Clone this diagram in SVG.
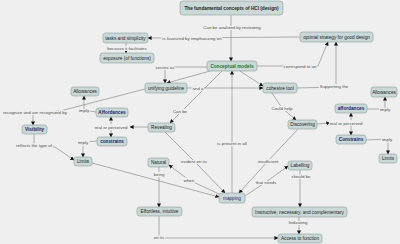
<svg xmlns="http://www.w3.org/2000/svg" width="400" height="244" viewBox="0 0 400 244">
<defs>
<marker id="ah" markerUnits="userSpaceOnUse" markerWidth="4" markerHeight="4" refX="3.6" refY="2" orient="auto">
<path d="M0,0 L4,2 L0,4 Z" fill="#111"/>
</marker>
<style>
.bg{fill:#efefef}
.n rect{fill:#cad8d8;stroke:#8a9c9c;stroke-width:0.6}
.n text{font-family:"Liberation Sans",Arial,sans-serif;font-size:4.7px;fill:#222;text-anchor:middle;dominant-baseline:central}
.n.b text{font-weight:bold;fill:#1a1a6e}
.n.g text{font-weight:bold;fill:#1f7a1f}
.n.t text{font-weight:bold;fill:#222}
.n.m text{fill:#1a1a6e}
#links line,#links polyline{stroke:#7c7c7c;stroke-width:0.6;fill:none}
.a{marker-end:url(#ah)}
.l{font-family:"Liberation Sans",Arial,sans-serif;font-size:4.4px;fill:#505050;text-anchor:middle;dominant-baseline:central;paint-order:stroke;stroke:#efefef;stroke-width:2.2px}
</style>
</defs>
<rect class="bg" x="0" y="0" width="400" height="244"/>
<g id="links">
<line class="a" x1="231" y1="15" x2="231" y2="61"/>
<line class="a" x1="300" y1="37" x2="148" y2="38"/>
<line class="a" x1="126" y1="43" x2="126" y2="53"/>
<polyline class="a" points="207,67 165,67 165,83"/>
<line class="a" x1="210" y1="71" x2="167" y2="83"/>
<polyline class="a" points="257,66 318,66 328,42"/>
<polyline class="a" points="297,88 336,87 336,42"/>
<line class="a" x1="187" y1="88" x2="263" y2="88"/>
<line class="a" x1="240" y1="71" x2="263" y2="86"/>
<line class="a" x1="222" y1="71" x2="170" y2="123"/>
<polyline class="a" points="145,89 60,111 33,113 33,125"/>
<line class="a" x1="148" y1="127" x2="130" y2="127"/>
<line class="a" x1="111" y1="124" x2="111" y2="117"/>
<line class="a" x1="111" y1="130" x2="111" y2="137"/>
<polyline class="a" points="96,112 84,110 84,96"/>
<polyline class="a" points="97,141 83,142 83,157"/>
<polyline class="a" points="34,134 34,145 55,147 74,160"/>
<line class="a" x1="92" y1="163" x2="219" y2="197"/>
<polyline class="a" points="272,93 282,108 296,120"/>
<line class="a" x1="317" y1="124" x2="330" y2="123"/>
<line class="a" x1="351" y1="120" x2="351" y2="113"/>
<line class="a" x1="351" y1="126" x2="351" y2="135"/>
<polyline class="a" points="367,109 385,109 385,97"/>
<polyline class="a" points="366,140 388,139 388,154"/>
<line class="a" x1="232" y1="193" x2="232" y2="71"/>
<polyline class="a" points="165,132 194,161 225,193"/>
<polyline class="a" points="298,129 268,161 239,193"/>
<polyline class="a" points="219,194 189,180 169,165"/>
<polyline class="a" points="245,196 266,182 288,166"/>
<line class="a" x1="300" y1="170" x2="300" y2="207"/>
<line class="a" x1="299" y1="217" x2="299" y2="234"/>
<line class="a" x1="159" y1="167" x2="159" y2="207"/>
<polyline class="a" points="159,216 159,238 278,238"/>
<text class="l" x="232" y="27">Can be analized by reviewing</text>
<text class="l" x="192" y="38">is favoured by emphasizing on</text>
<text class="l" x="127" y="48">because it facilitates</text>
<text class="l" x="165" y="67">serves as</text>
<text class="l" x="300" y="66">correspond to an</text>
<text class="l" x="334" y="86">Supporting the</text>
<text class="l" x="198" y="88">and a</text>
<text class="l" x="180" y="111">Can be</text>
<text class="l" x="35" y="112">recognize and are recognized by</text>
<text class="l" x="84" y="110">imply</text>
<text class="l" x="111" y="127">real or perceived</text>
<text class="l" x="83" y="142">imply</text>
<text class="l" x="34" y="145">reflects the type of</text>
<text class="l" x="282" y="108">Could help</text>
<text class="l" x="346" y="123">real or perceived</text>
<text class="l" x="385" y="109">imply</text>
<text class="l" x="387" y="139">imply</text>
<text class="l" x="232" y="143">is present in all</text>
<text class="l" x="194" y="161">evident on its</text>
<text class="l" x="268" y="161">insufficient</text>
<text class="l" x="189" y="180">when</text>
<text class="l" x="266" y="182">that needs</text>
<text class="l" x="159" y="174">being</text>
<text class="l" x="301" y="176">should be</text>
<text class="l" x="298" y="222">Indicating</text>
<text class="l" x="159" y="237">on its</text>
</g>
<g id="n1" class="n t"><rect x="180" y="1" width="103" height="14" rx="3"/><text x="231.5" y="8">The fundamental concepts of HCI (design)</text></g>
<g id="n2" class="n"><rect x="103" y="33" width="45" height="10" rx="2.5"/><text x="125.5" y="38">tasks and simplicity</text></g>
<g id="n3" class="n"><rect x="100" y="53" width="54" height="10" rx="2.5"/><text x="127" y="58">exposure (of functions)</text></g>
<g id="n4" class="n"><rect x="300" y="32" width="73" height="10" rx="2.5"/><text x="336.5" y="37">optimal strategy for good design</text></g>
<g id="n5" class="n g"><rect x="207" y="61" width="50" height="10" rx="2.5"/><text x="232" y="66">Conceptual models</text></g>
<g id="n6" class="n"><rect x="145" y="83" width="42" height="10" rx="2.5"/><text x="166" y="88">unifying guideline</text></g>
<g id="n7" class="n"><rect x="263" y="83" width="34" height="10" rx="2.5"/><text x="280" y="88">cohesive tool</text></g>
<g id="n8" class="n"><rect x="71" y="87" width="28" height="9" rx="2.5"/><text x="85" y="91.5">Allowances</text></g>
<g id="n9" class="n b"><rect x="96" y="108" width="32" height="9" rx="2.5"/><text x="112" y="112.5">Affordances</text></g>
<g id="n10" class="n b"><rect x="22" y="125" width="25" height="9" rx="2.5"/><text x="34.5" y="129.5">Visibility</text></g>
<g id="n11" class="n"><rect x="148" y="123" width="27" height="9" rx="2.5"/><text x="161.5" y="127.5">Revealing</text></g>
<g id="n12" class="n b"><rect x="97" y="137" width="30" height="9" rx="2.5"/><text x="112" y="141.5">constrains</text></g>
<g id="n13" class="n"><rect x="74" y="157" width="18" height="9" rx="2.5"/><text x="83" y="161.5">Limits</text></g>
<g id="n14" class="n"><rect x="148" y="158" width="21" height="9" rx="2.5"/><text x="158.5" y="162.5">Natural</text></g>
<g id="n15" class="n"><rect x="288" y="120" width="29" height="9" rx="2.5"/><text x="302.5" y="124.5">Discovering</text></g>
<g id="n16" class="n b"><rect x="335" y="104" width="32" height="9" rx="2.5"/><text x="351" y="108.5">affordances</text></g>
<g id="n17" class="n"><rect x="371" y="87" width="26" height="10" rx="2.5"/><text x="384" y="92">Allowances</text></g>
<g id="n18" class="n b"><rect x="336" y="135" width="30" height="9" rx="2.5"/><text x="351" y="139.5">Constrains</text></g>
<g id="n19" class="n"><rect x="379" y="154" width="18" height="9" rx="2.5"/><text x="388" y="158.5">Limits</text></g>
<g id="n20" class="n"><rect x="288" y="161" width="24" height="9" rx="2.5"/><text x="300" y="165.5">Labelling</text></g>
<g id="n21" class="n m"><rect x="219" y="193" width="26" height="10" rx="2.5"/><text x="232" y="198">mapping</text></g>
<g id="n22" class="n"><rect x="137" y="207" width="45" height="9" rx="2.5"/><text x="159.5" y="211.5">Effortless, intuitive</text></g>
<g id="n23" class="n"><rect x="252" y="207" width="95" height="10" rx="2.5"/><text x="299.5" y="212">Instructive, necessary, and complementary</text></g>
<g id="n24" class="n"><rect x="278" y="234" width="44" height="9" rx="2.5"/><text x="300" y="238.5">Access to function</text></g>
</svg>
